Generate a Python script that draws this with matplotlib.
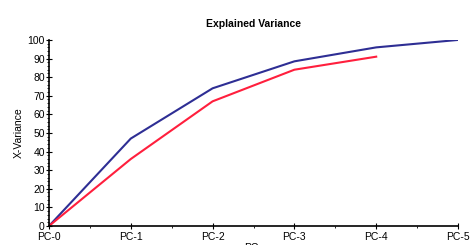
import matplotlib
matplotlib.use("Agg")
import matplotlib.pyplot as plt
from matplotlib.ticker import MultipleLocator

categories = ["PC-0", "PC-1", "PC-2", "PC-3", "PC-4", "PC-5"]
blue_values = [0, 47, 74, 88.5, 96, 100]
red_values = [0, 36, 67, 84, 91]

plt.rcParams['font.family'] = ['Liberation Sans', 'DejaVu Sans']

fig = plt.figure(figsize=(4.77, 2.45), dpi=100)
ax = fig.add_axes([0.1027, 0.0776, 0.8575, 0.7594])

x_blue = list(range(len(blue_values)))
x_red = list(range(len(red_values)))
ax.plot(x_blue, blue_values, color="#2E2E94", lw=1.5)
ax.plot(x_red, red_values, color="#FF1F3D", lw=1.5)

ax.set_xlim(0, len(categories) - 1)
ax.set_ylim(0, 100)
ax.set_xticks(range(len(categories)))
ax.set_xticklabels(categories)
ax.yaxis.set_major_locator(MultipleLocator(10))
ax.yaxis.set_minor_locator(MultipleLocator(2))
ax.xaxis.set_minor_locator(MultipleLocator(0.5))

for s in ["top", "right"]:
    ax.spines[s].set_visible(False)
for s in ["left", "bottom"]:
    ax.spines[s].set_linewidth(1.2)

ax.tick_params(axis="both", which="major", direction="inout", length=4, width=0.8, labelsize=7.5)
ax.tick_params(axis="x", which="major", pad=2)
ax.tick_params(axis="y", which="major", pad=1)
ax.tick_params(axis="both", which="minor", direction="out", length=1.5, width=0.6)

ax.set_title("Explained Variance", fontsize=7.5, fontweight="bold", pad=9)
ax.set_ylabel("X-Variance", fontsize=7.5, labelpad=3)
ax.set_xlabel("PCs", fontsize=7.5, labelpad=1)

fig.savefig("out.png", dpi=100)
